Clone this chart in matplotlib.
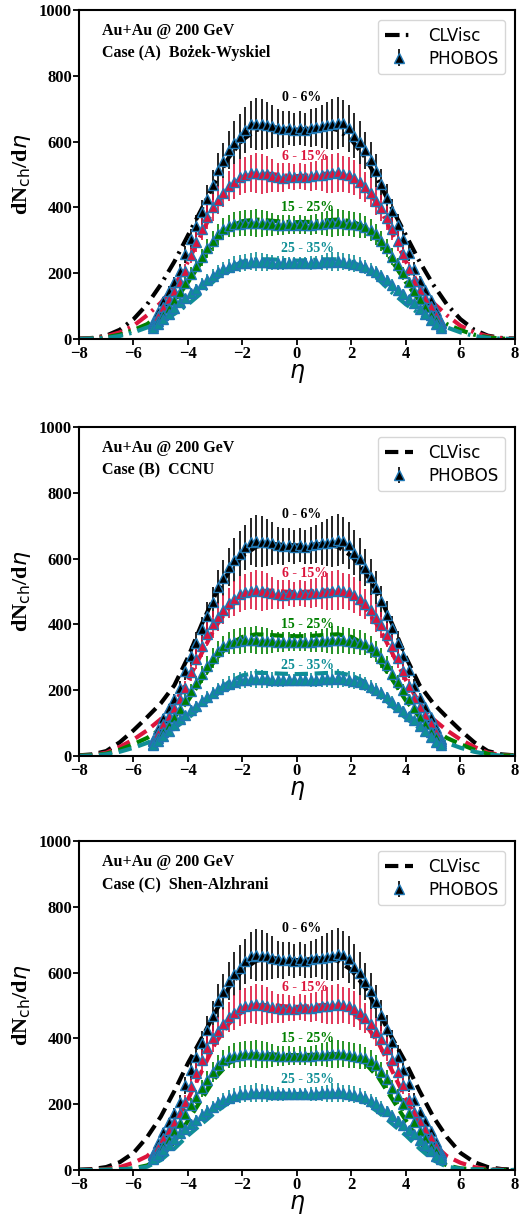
"""dN/deta of Au+Au @ 200 GeV: CLVisc vs PHOBOS for three initial-condition cases."""

import numpy as np
import matplotlib
matplotlib.use("Agg")
import matplotlib.pyplot as plt

plt.rcParams["font.family"] = ["Liberation Serif", "DejaVu Serif"]
plt.rcParams["mathtext.fontset"] = "dejavusans"

# ---- PHOBOS data (eta bins -5.3 .. 5.3, step 0.2) ----
eta_data = np.linspace(-5.3, 5.3, 54)

phobos_0_6 = [50, 82, 115, 145, 172, 208, 258, 303, 343, 385, 425, 468, 513, 542,
              574, 596, 615, 634, 652, 654, 652, 650, 646, 640, 637, 641, 636,
              642, 636, 640, 644, 646, 649, 652, 656, 655, 640, 618, 598, 573, 545,
              512, 470, 428, 388, 345, 305, 262, 212, 175, 148, 118, 85, 52]
phobos_6_15 = [45, 70, 98, 122, 145, 172, 208, 255, 295, 333, 370, 400, 422, 445,
               465, 478, 492, 498, 503, 505, 502, 500, 496, 492, 490, 494, 491,
               495, 492, 494, 497, 498, 500, 503, 506, 502, 498, 490, 478, 462, 445,
               420, 398, 368, 335, 298, 258, 212, 175, 148, 124, 100, 72, 47]
phobos_15_25 = [38, 55, 72, 95, 118, 142, 170, 198, 222, 248, 275, 298, 318, 333,
                343, 348, 350, 352, 353, 352, 351, 350, 349, 347, 346, 348, 347,
                348, 346, 347, 349, 350, 351, 352, 354, 352, 350, 348, 345, 340, 332,
                318, 298, 276, 250, 224, 200, 172, 145, 120, 97, 74, 57, 40]
phobos_25_35 = [32, 45, 60, 77, 95, 112, 125, 140, 152, 168, 180, 192, 203, 212,
                220, 226, 230, 232, 234, 235, 234, 233, 232, 231, 230, 231, 230,
                231, 230, 231, 232, 233, 234, 235, 236, 234, 232, 229, 225, 219, 211,
                202, 190, 178, 165, 150, 137, 122, 108, 92, 75, 58, 44, 33]
# relative systematic uncertainty per eta bin
phobos_rel_err = [0.10, 0.10, 0.10, 0.10, 0.10, 0.10, 0.10, 0.10, 0.10, 0.10, 0.10,
                  0.10, 0.10, 0.10, 0.10, 0.11, 0.11, 0.11, 0.11, 0.12, 0.12, 0.11,
                  0.10, 0.09, 0.09, 0.08, 0.08,
                  0.08, 0.08, 0.09, 0.09, 0.10, 0.11, 0.12, 0.12, 0.11, 0.11, 0.11,
                  0.11, 0.10, 0.10, 0.10, 0.10, 0.10, 0.10, 0.10, 0.10, 0.10, 0.10,
                  0.10, 0.10, 0.10, 0.10, 0.10]

# ---- CLVisc results (eta -8 .. 8, step 0.5) ----
eta_model = np.linspace(-8, 8, 33)

caseA_0_6 = [1, 3, 10, 28, 60, 105, 165, 235, 315, 395, 478, 552, 605, 635, 645, 640, 636,
             640, 645, 635, 605, 552, 478, 395, 315, 235, 165, 105, 60, 28, 10, 3, 1]
caseA_6_15 = [1, 2, 8, 20, 40, 72, 110, 160, 235, 320, 405, 460, 492, 502, 502, 497, 495,
              497, 502, 502, 492, 460, 405, 320, 235, 160, 110, 72, 40, 20, 8, 2, 1]
caseA_15_25 = [0, 1, 5, 13, 27, 45, 75, 115, 172, 235, 300, 340, 358, 363, 360, 356, 355,
               356, 360, 363, 358, 340, 300, 235, 172, 115, 75, 45, 27, 13, 5, 1, 0]
caseA_25_35 = [0, 1, 3, 9, 20, 35, 52, 76, 105, 140, 180, 215, 235, 242, 242, 240, 238,
               240, 242, 242, 235, 215, 180, 140, 105, 76, 52, 35, 20, 9, 3, 1, 0]

caseB_0_6 = [2, 5, 15, 42, 78, 118, 160, 215, 300, 400, 490, 560, 608, 636, 645, 642, 640,
             642, 645, 636, 608, 560, 490, 400, 300, 215, 160, 118, 78, 42, 15, 5, 2]
caseB_6_15 = [1, 3, 10, 28, 50, 78, 112, 160, 230, 312, 392, 450, 485, 500, 503, 500, 498,
              500, 503, 500, 485, 450, 392, 312, 230, 160, 112, 78, 50, 28, 10, 3, 1]
caseB_15_25 = [1, 2, 7, 19, 36, 55, 82, 118, 168, 232, 292, 338, 362, 370, 368, 365, 364,
               365, 368, 370, 362, 338, 292, 232, 168, 118, 82, 55, 36, 19, 7, 2, 1]
caseB_25_35 = [0, 1, 5, 13, 25, 40, 58, 84, 115, 150, 190, 225, 245, 253, 252, 250, 249,
               250, 252, 253, 245, 225, 190, 150, 115, 84, 58, 40, 25, 13, 5, 1, 0]

caseC_0_6 = [1, 3, 9, 24, 52, 100, 162, 240, 325, 400, 480, 555, 608, 636, 645, 641, 638,
             641, 645, 636, 608, 555, 480, 400, 325, 240, 162, 100, 52, 24, 9, 3, 1]
caseC_6_15 = [0, 1, 3, 9, 22, 42, 80, 140, 215, 300, 385, 445, 482, 500, 502, 498, 496,
              498, 502, 500, 482, 445, 385, 300, 215, 140, 80, 42, 22, 9, 3, 1, 0]
caseC_15_25 = [0, 0, 1, 2, 5, 14, 36, 85, 150, 215, 280, 325, 345, 352, 352, 350, 349,
               350, 352, 352, 345, 325, 280, 215, 150, 85, 36, 14, 5, 2, 1, 0, 0]
caseC_25_35 = [0, 0, 1, 2, 4, 10, 30, 65, 105, 140, 175, 205, 222, 230, 232, 232, 231,
               232, 232, 230, 222, 205, 175, 140, 105, 65, 30, 10, 4, 2, 1, 0, 0]

centralities = ["0 - 6%", "6 - 15%", "15 - 25%", "25 - 35%"]
colors = ["black", "#DC143C", "green", "#0f8f96"]
label_pos = [(0.15, 735), (0.3, 555), (0.4, 400), (0.4, 275)]

phobos = [phobos_0_6, phobos_6_15, phobos_15_25, phobos_25_35]
dashdot = (0, (3.5, 1.5, 0.6, 1.5))
dashed = (0, (3.2, 1.6))
cases = [
    ("Case (A)  Bożek-Wyskiel", dashdot, [caseA_0_6, caseA_6_15, caseA_15_25, caseA_25_35]),
    ("Case (B)  CCNU", dashed, [caseB_0_6, caseB_6_15, caseB_15_25, caseB_25_35]),
    ("Case (C)  Shen-Alzhrani", dashed, [caseC_0_6, caseC_6_15, caseC_15_25, caseC_25_35]),
]

fig = plt.figure(figsize=(5.32, 12.17), dpi=100)
bottoms = [0.7215, 0.3788, 0.0386]

for (case_label, ls, curves), bottom in zip(cases, bottoms):
    ax = fig.add_axes([0.1485, bottom, 0.8195, 0.2703])

    # model curves
    for i, (vals, col) in enumerate(zip(curves, colors)):
        ax.plot(eta_model, vals, ls=ls, color=col, lw=3,
                label="CLVisc" if i == 0 else None, zorder=2)

    # PHOBOS points
    for i, (vals, col) in enumerate(zip(phobos, colors)):
        vals = np.array(vals, dtype=float)
        err = vals * np.array(phobos_rel_err)
        ax.errorbar(eta_data, vals, yerr=err, fmt="^", color=col, ecolor=col,
                    mfc=col, mec="#1f77b4", ms=7, mew=1, elinewidth=1.2,
                    capsize=0, label="PHOBOS" if i == 0 else None, zorder=3)

    for text, col, (x, y) in zip(centralities, colors, label_pos):
        ax.text(x, y, text, color=col, fontsize=10, fontweight="bold",
                ha="center", va="center", zorder=5)

    ax.text(0.052, 0.937, "Au+Au @ 200 GeV", transform=ax.transAxes,
            fontsize=11.5, fontweight="bold", va="center")
    ax.text(0.052, 0.868, case_label, transform=ax.transAxes,
            fontsize=11.5, fontweight="bold", va="center")

    ax.set_xlim(-8, 8)
    ax.set_ylim(0, 1000)
    ax.set_xticks([-8, -6, -4, -2, 0, 2, 4, 6, 8])
    ax.set_yticks([0, 200, 400, 600, 800, 1000])
    for lab in ax.get_xticklabels() + ax.get_yticklabels():
        lab.set_fontweight("bold")
        lab.set_fontsize(12)
    ax.tick_params(width=1.3, length=4, pad=1)
    for sp in ax.spines.values():
        sp.set_linewidth(1.5)

    ax.set_xlabel(r"$\eta$", fontsize=17, labelpad=0)
    ax.set_ylabel(r"dN$_{\rm ch}$/d$\eta$", fontsize=16, fontweight="bold", labelpad=4)

    leg = ax.legend(loc="upper right", prop={"family": "DejaVu Sans", "size": 12},
                    handlelength=1.7, handletextpad=0.9, labelspacing=0.3,
                    borderaxespad=0.6)

fig.savefig("out.png", dpi=100)
